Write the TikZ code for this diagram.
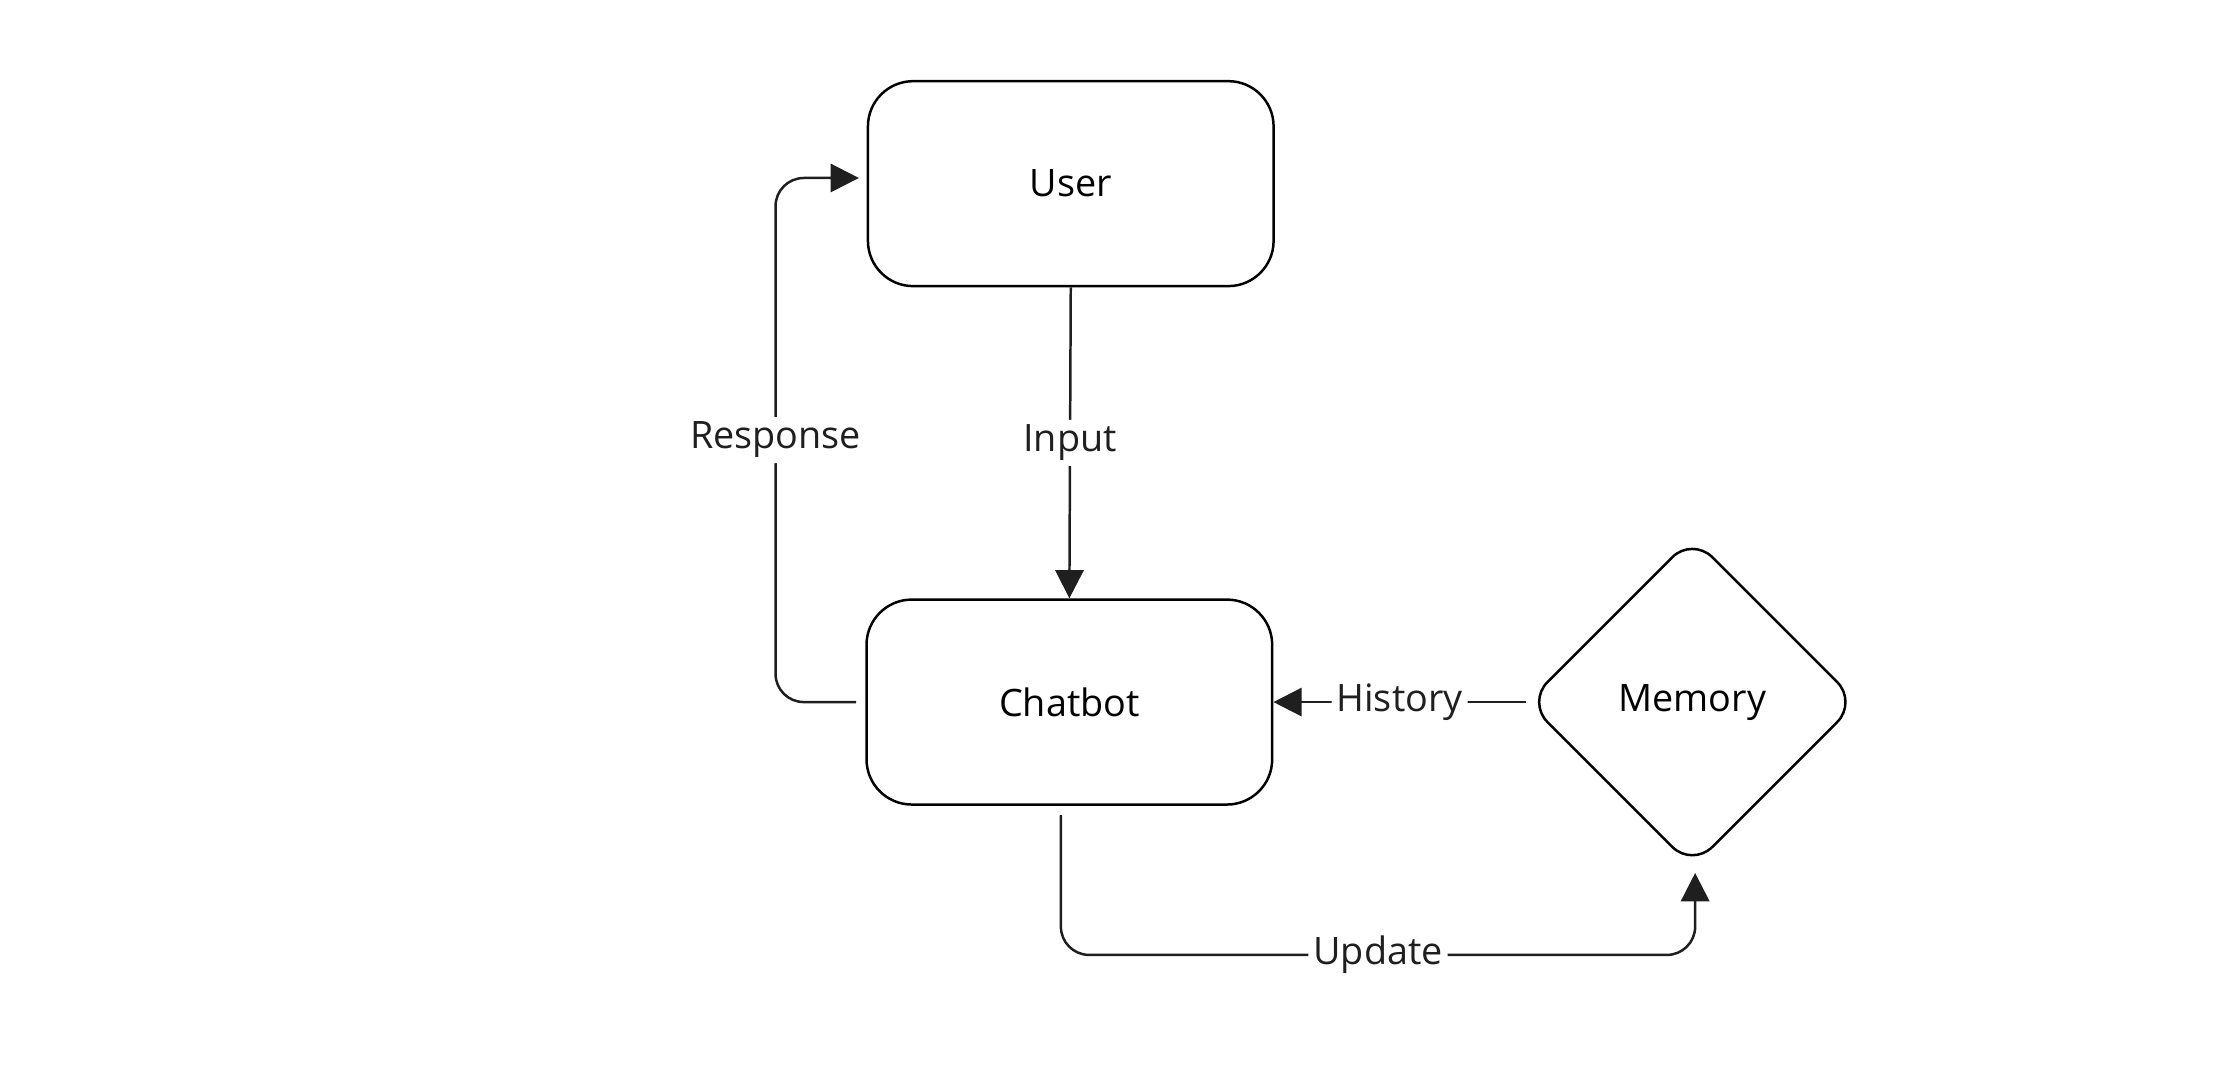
\documentclass[tikz,border=0pt]{standalone}
\usepackage{fontspec}
\setmainfont{Open Sans}
\usetikzlibrary{arrows.meta,shapes.geometric,positioning}

\begin{document}
\begin{tikzpicture}[%
	x=0.01cm, y=-0.01cm,
	>={Triangle[length=0.2cm,width=0.2cm]},
	font=\fontsize{7.6pt}{9pt}\selectfont,
	box/.style={draw, line width=0.5pt, rounded corners=0.32cm, minimum width=2.87cm, minimum height=1.45cm, inner sep=0pt},
	store/.style={draw, diamond, line width=0.5pt, rounded corners=0.2cm, minimum size=2.34cm, inner sep=0pt},
	link/.style={draw, line width=0.5pt, color=black!88, rounded corners=0.2cm},
	tag/.style={fill=white, inner sep=1pt}
]
\useasboundingbox (0,0) rectangle (1568,758);

\node[box] (user) at (758,130) {User};
\node[box] (bot) at (757,497) {Chatbot};
\node[store] (mem) at (1198,497) {Memory};

\coordinate (botleft) at (606,497);
\coordinate (userleft) at (608,126);
\coordinate (botbottom) at (751,577);
\coordinate (memtip) at (1200,618);

\path[link,->] (user.south) -- node[tag] {Input} (bot.north);
\path[link,->] (botleft) -- (549,497) -- node[tag] {Response} (549,126) -- (userleft);
\path[link,->] (mem.west) -- node[tag] {History} (bot.east);
\path[link,->] (botbottom) -- (751,676) -- node[tag, pos=0.5] {Update} (1200,676) -- (memtip);

\end{tikzpicture}
\end{document}
